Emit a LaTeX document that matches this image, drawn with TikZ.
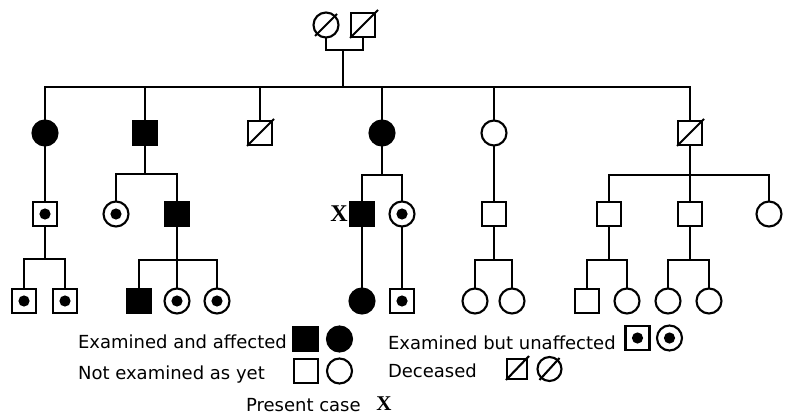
\documentclass[tikz,border=0pt]{standalone}
\usepackage{fontspec}
\setmainfont{DejaVu Sans}
\newfontfamily\xfont{Liberation Serif}
\usetikzlibrary{calc}
\tikzset{
  every path/.style={line width=2.1pt},
  person/.style={draw, line width=2.1pt, inner sep=0pt, outer sep=0pt},
  sq/.style={person, rectangle, minimum size=24pt},
  ci/.style={person, circle, minimum size=25pt},
  aff/.style={fill=black},
  exam/.style={path picture={\fill (path picture bounding box.center) circle[radius=5.6pt];}},
  lbl/.style={anchor=base west, inner sep=0pt, font=\fontsize{18}{20}\selectfont},
  xlbl/.style={inner sep=0pt, font=\xfont\bfseries\fontsize{24}{26}\selectfont}
}
\begin{document}
\begin{tikzpicture}[x=1pt,y=-1pt]
\useasboundingbox (0,0) rectangle (790,414);
% Generation I
\node[ci] (m0) at (326,25) {};
\node[sq] (f0) at (363,25) {};
\draw ([shift={(-11pt,-11pt)}]m0.center) -- ([shift={(11pt,11pt)}]m0.center);
\draw ([shift={(-1pt,-1pt)}]f0.south west) -- ([shift={(3pt,3pt)}]f0.north east);
\coordinate (mar) at (343,50);
\coordinate (sib) at (343,87);
\draw (m0.south) -- (m0.south |- mar) -- (f0.south |- mar) -- (f0.south);
\draw (mar) -- (sib);
% Generation II
\node[ci,aff] (a1) at (45,133) {};
\node[sq,aff] (a2) at (145,133) {};
\node[sq] (a3) at (260,133) {};
\node[ci,aff] (a4) at (382,133) {};
\node[ci] (a5) at (494,133) {};
\node[sq] (a6) at (690,133) {};
\draw ([shift={(-1pt,-1pt)}]a3.south west) -- ([shift={(2pt,2pt)}]a3.north east);
\draw ([shift={(-1pt,-1pt)}]a6.south west) -- ([shift={(2pt,2pt)}]a6.north east);
\draw (a1.north) -- (a1.north |- sib) -- (a6.north |- sib) -- (a6.north);
\foreach \n in {a2,a3,a4,a5} \draw (\n.north) -- (\n.north |- sib);
% Generation III
\node[sq,exam] (b1) at (45,214) {};
\node[ci,exam] (b2) at (116,214) {};
\node[sq,aff] (b3) at (177,214) {};
\node[sq,aff] (b4) at (362,214) {};
\node[ci,exam] (b5) at (402,214) {};
\node[sq] (b6) at (494,214) {};
\node[sq] (b7) at (609,214) {};
\node[sq] (b8) at (690,214) {};
\node[ci] (b9) at (769,214) {};
\node[xlbl] (xcase) at (339,214) {X};
\draw (a1.south) -- (b1.north);
\coordinate (s2) at (145,174);
\draw (a2.south) -- (s2);
\draw (b2.north) -- (b2.north |- s2) -- (b3.north |- s2) -- (b3.north);
\coordinate (s4) at (382,175);
\draw (a4.south) -- (s4);
\draw (b4.north) -- (b4.north |- s4) -- (b5.north |- s4) -- (b5.north);
\draw (a5.south) -- (b6.north);
\coordinate (s6) at (690,175);
\draw (a6.south) -- (b8.north);
\draw (b7.north) -- (b7.north |- s6) -- (b9.north |- s6) -- (b9.north);
% Generation IV
\node[sq,exam] (c1) at (24,301) {};
\node[sq,exam] (c2) at (65,301) {};
\node[sq,aff] (c3) at (139,301) {};
\node[ci,exam] (c4) at (177,301) {};
\node[ci,exam] (c5) at (217,301) {};
\node[ci,aff] (c6) at (362,301) {};
\node[sq,exam] (c7) at (402,301) {};
\node[ci] (c8) at (475,301) {};
\node[ci] (c9) at (512,301) {};
\node[sq] (c10) at (587,301) {};
\node[ci] (c11) at (627,301) {};
\node[ci] (c12) at (668,301) {};
\node[ci] (c13) at (709,301) {};
\coordinate (t1) at (45,259);
\draw (b1.south) -- (t1);
\draw (c1.north) -- (c1.north |- t1) -- (c2.north |- t1) -- (c2.north);
\coordinate (t3) at (177,260);
\draw (b3.south) -- (c4.north);
\draw (c3.north) -- (c3.north |- t3) -- (c5.north |- t3) -- (c5.north);
\draw (b4.south) -- (c6.north);
\draw (b5.south) -- (c7.north);
\coordinate (t6) at (494,260);
\draw (b6.south) -- (t6);
\draw (c8.north) -- (c8.north |- t6) -- (c9.north |- t6) -- (c9.north);
\coordinate (t7) at (609,260);
\draw (b7.south) -- (t7);
\draw (c10.north) -- (c10.north |- t7) -- (c11.north |- t7) -- (c11.north);
\coordinate (t8) at (690,260);
\draw (b8.south) -- (t8);
\draw (c12.north) -- (c12.north |- t8) -- (c13.north |- t8) -- (c13.north);
% Legend
\node[lbl] (l1) at (77,348) {Examined and affected};
\node[sq,aff] (k1) at (305.5,339) {};
\node[ci,aff] (k2) at (339.5,339) {};
\node[lbl] (l2) at (77,379) {Not examined as yet};
\node[sq] (k3) at (306,371) {};
\node[ci] (k4) at (339.5,371) {};
\node[lbl] (l3) at (387,349) {Examined but unaffected};
\node[sq,exam] (k5) at (637.5,338) {};
\node[ci,exam] (k6) at (669.5,338) {};
\node[lbl] (l4) at (387,377) {Deceased};
\node[sq,minimum size=20pt] (k7) at (517,369) {};
\node[ci,minimum size=24pt] (k8) at (549.5,369) {};
\draw ([shift={(-1pt,-1pt)}]k7.south west) -- ([shift={(2pt,3pt)}]k7.north east);
\draw ([shift={(-10pt,-11pt)}]k8.center) -- ([shift={(10pt,11pt)}]k8.center);
\node[lbl] (l5) at (245,411) {Present case};
\node[xlbl, anchor=base, font=\xfont\bfseries\fontsize{21}{22}\selectfont] (k9) at (384,410) {X};
\end{tikzpicture}
\end{document}
